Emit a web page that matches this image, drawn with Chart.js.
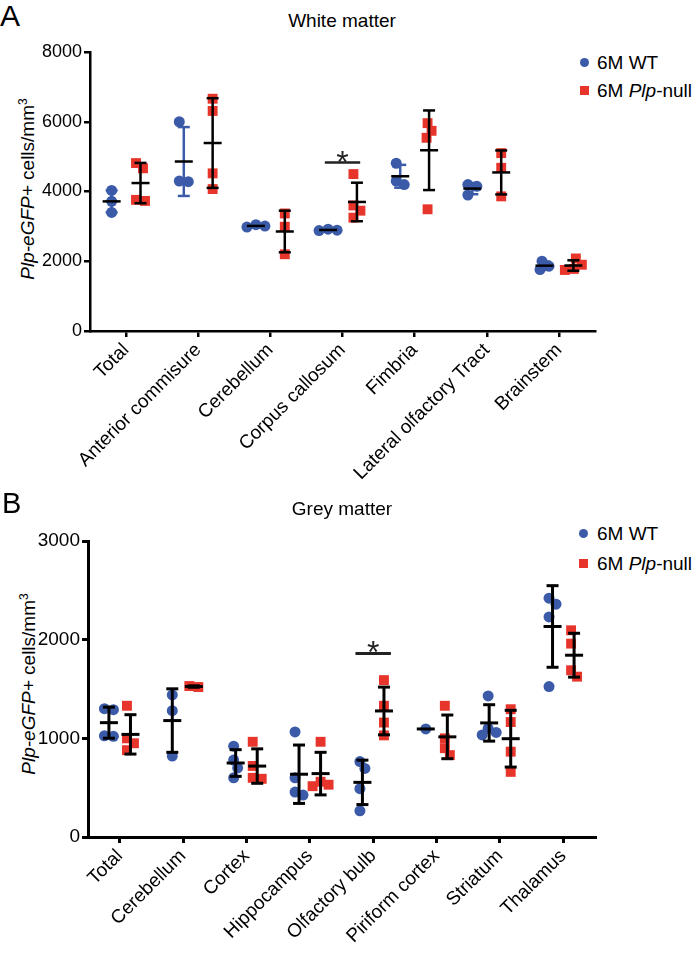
<!DOCTYPE html>
<html>
<head>
<meta charset="utf-8">
<script src="https://cdn.jsdelivr.net/npm/chart.js@4"></script>
<style>
  body { margin: 0; background: #fff; font-family: "Liberation Sans", Arial, sans-serif; color: #000; }
  #page { position: relative; width: 699px; height: 958px; overflow: hidden; }
  .t { position: absolute; line-height: 1; white-space: nowrap; }
  .ytitle { position: absolute; line-height: 1; white-space: nowrap; font-size: 19px;
            transform: translate(-50%, -50%) rotate(-90deg); }
  .dot { position: absolute; width: 9px; height: 9px; border-radius: 50%; background: #3B5BA9; }
  .sq { position: absolute; width: 9px; height: 9px; background: #E8352B; }
  canvas { position: absolute; left: 0; }
</style>
</head>
<body>
<div id="page">
  <div class="t" style="left:0;top:1px;font-size:30px">A</div>
  <div class="t" style="left:342px;top:11px;font-size:19px;transform:translateX(-50%)">White matter</div>
  <div class="dot" style="left:580px;top:58px"></div>
  <div class="t" style="left:597px;top:53px;font-size:19px">6M WT</div>
  <div class="sq" style="left:580px;top:86px"></div>
  <div class="t" style="left:597px;top:81px;font-size:19px">6M <i>Plp</i>-null</div>
  <div class="ytitle" style="left:27px;top:189px"><i>Plp-eGFP+</i> cells/mm<sup style="font-size:12px">3</sup></div>
  <canvas id="chartA" width="699" height="470" style="top:30px"></canvas>

  <div class="t" style="left:2px;top:489px;font-size:29px">B</div>
  <div class="t" style="left:342px;top:499px;font-size:19px;transform:translateX(-50%)">Grey matter</div>
  <div class="dot" style="left:579px;top:529px"></div>
  <div class="t" style="left:597px;top:524px;font-size:19px">6M WT</div>
  <div class="sq" style="left:579px;top:559px"></div>
  <div class="t" style="left:597px;top:554px;font-size:19px">6M <i>Plp</i>-null</div>
  <div class="ytitle" style="left:28px;top:684px"><i>Plp-eGFP+</i> cells/mm<sup style="font-size:12px">3</sup></div>
  <canvas id="chartB" width="699" height="438" style="top:520px"></canvas>
</div>
<script>
// White matter
const regionsA = ['Total', 'Anterior commisure', 'Cerebellum', 'Corpus callosum', 'Fimbria', 'Lateral olfactory Tract', 'Brainstem']
const wtA = [[4030, 3720, 3400], [6000, 4300, 4280], [3050, 3010, 2980], [2920, 2890, 2880],
             [4810, 4300, 4200], [4200, 4150, 3900], [2000, 1860, 1760]]
const nullA = [[4815, 4665, 3760, 3730], [6660, 6310, 4520, 4070], [3370, 2990, 2200], [4500, 3600, 3450, 3250],
               [5960, 5740, 5540, 3490], [5100, 4680, 3860], [2080, 1900, 1780, 1750]]
const ticksA = [0, 2000, 4000, 6000, 8000]
const sigRegionA = [3]
const sigValueA = [4830]

// Grey matter
const regionsB = ['Total', 'Cerebellum', 'Cortex', 'Hippocampus', 'Olfactory bulb', 'Piriform cortex', 'Striatum', 'Thalamus']
const wtB = [[1300, 1290, 1025, 1020], [1440, 1280, 820], [920, 780, 700, 600], [1065, 600, 455, 425],
             [765, 695, 490, 265], [1095], [1430, 1100, 1060, 1035], [2420, 2360, 2230, 1525]]
const nullB = [[1330, 1000, 950, 880], [1530, 1520], [965, 720, 600, 590], [965, 560, 530, 515],
               [1590, 1330, 1160, 1030], [1330, 1000, 900, 830], [1295, 1165, 865, 660], [2095, 1960, 1690, 1625]]
const ticksB = [0, 1000, 2000, 3000]
const sigRegionB = [4]
const sigValueB = [1860]

const BLUE = '#3B5BA9'
const RED = '#E8352B'
const FONT = '"Liberation Sans", Arial, sans-serif'

function meanSd(vals) {
    const n = vals.length
    const m = vals.reduce((a, b) => a + b, 0) / n
    const sd = n > 1 ? Math.sqrt(vals.reduce((a, v) => a + (v - m) ** 2, 0) / (n - 1)) : 0
    return [m, sd]
}

function line(ctx, x1, y1, x2, y2) {
    ctx.beginPath()
    ctx.moveTo(x1, y1)
    ctx.lineTo(x2, y2)
    ctx.stroke()
}

// mean +/- SD bars and significance marks, drawn over the points
const dotPlot = {
    id: 'dotplot',
    afterDatasetsDraw(chart, args, o) {
        const { ctx, scales: { x, y } } = chart
        ctx.save()
        ctx.lineWidth = o.lineWidth
        const groups = [[o.wt, -o.off, o.wtBar], [o.ko, o.off, '#000']]
        groups.forEach(([sets, dx, col]) => {
            sets.forEach((vals, i) => {
                const [m, sd] = meanSd(vals)
                const px = x.getPixelForValue(i + dx)
                const yt = y.getPixelForValue(m + sd)
                const yb = y.getPixelForValue(m - sd)
                const ym = y.getPixelForValue(m)
                if (sd > 0) {
                    ctx.strokeStyle = col
                    line(ctx, px, yt, px, yb)
                    line(ctx, px - 6, yt, px + 6, yt)
                    line(ctx, px - 6, yb, px + 6, yb)
                }
                ctx.strokeStyle = '#000'
                line(ctx, px - 9, ym, px + 9, ym)
            })
        })
        ctx.strokeStyle = '#222'
        ctx.fillStyle = '#222'
        ctx.font = '32px ' + FONT
        ctx.textAlign = 'center'
        ctx.textBaseline = 'alphabetic'
        o.sigRegion.forEach((c, k) => {
            const yv = y.getPixelForValue(o.sigValue[k])
            const x1 = x.getPixelForValue(c - o.sigHalf)
            const x2 = x.getPixelForValue(c + o.sigHalf)
            line(ctx, x1, yv, x2, yv)
            ctx.fillText('*', (x1 + x2) / 2, yv + 10)
        })
        ctx.restore()
    }
}

// spread overlapping points sideways (pixel offsets), centred on the group
function swarm(vals, yPix, d) {
    const order = vals.map((v, i) => i).sort((a, b) => vals[b] - vals[a])
    const placed = []
    const out = []
    order.forEach(i => {
        const py = yPix(vals[i])
        let best = 0
        search:
        for (let k = 0; k < 30; k++) {
            for (const s of (k === 0 ? [0] : [1, -1])) {
                const px = s * k
                if (placed.every(p => (p.x - px) ** 2 + (p.y - py) ** 2 >= d * d)) { best = px; break search }
            }
        }
        placed.push({ x: best, y: py })
        out[i] = best
    })
    const shift = (Math.max(...out) + Math.min(...out)) / 2
    return out.map(v => v - shift)
}

function buildPoints(sets, dx) {
    const pts = []
    sets.forEach((vals, i) => vals.forEach(v => pts.push({ x: i + dx, y: v })))
    return pts
}

function makeChart(id, regions, wt, ko, ticks, cfg) {
    const axisLine = { color: '#000', width: cfg.lineWidth }
    const grid = { drawOnChartArea: false, color: '#000', lineWidth: cfg.lineWidth, tickLength: 6 }
    const chart = new Chart(document.getElementById(id), {
        type: 'scatter',
        data: {
            datasets: [
                { label: '6M WT', data: buildPoints(wt, -cfg.off), pointStyle: 'circle', pointRadius: 5.5,
                  backgroundColor: BLUE, borderWidth: 0, pointHoverRadius: 5.5 },
                { label: '6M Plp-null', data: buildPoints(ko, cfg.off), pointStyle: 'rect', pointRadius: 7,
                  backgroundColor: RED, borderWidth: 0, pointHoverRadius: 7 }
            ]
        },
        options: {
            responsive: false,
            animation: false,
            layout: { padding: { top: cfg.padTop, right: 104, left: 0, bottom: 0 } },
            plugins: {
                legend: { display: false },
                tooltip: { enabled: false },
                dotplot: {
                    wt: wt, ko: ko, off: cfg.off, wtBar: cfg.wtBar, lineWidth: cfg.lineWidth,
                    sigRegion: cfg.sigRegion, sigValue: cfg.sigValue, sigHalf: cfg.sigHalf
                }
            },
            scales: {
                x: {
                    type: 'linear',
                    min: -0.5,
                    max: regions.length - 0.5,
                    afterBuildTicks: s => { s.ticks = regions.map((r, i) => ({ value: i })) },
                    afterFit: s => { s.height = cfg.xHeight },
                    ticks: {
                        autoSkip: false, minRotation: 45, maxRotation: 45, padding: 2,
                        color: '#000', font: { size: 19, family: FONT },
                        callback: v => regions[v]
                    },
                    grid: grid,
                    border: axisLine
                },
                y: {
                    min: ticks[0],
                    max: ticks[ticks.length - 1],
                    afterBuildTicks: s => { s.ticks = ticks.map(v => ({ value: v })) },
                    afterFit: s => { s.width = cfg.yWidth },
                    ticks: {
                        padding: 2, color: '#000',
                        font: { size: cfg.tickSize, family: FONT },
                        callback: v => String(v)
                    },
                    grid: grid,
                    border: axisLine
                }
            }
        },
        plugins: [dotPlot]
    })

    // jitter overlapping points now that the scales exist
    const unit = chart.scales.x.getPixelForValue(1) - chart.scales.x.getPixelForValue(0)
    const yPix = v => chart.scales.y.getPixelForValue(v);
    [[wt, -cfg.off, 8.5], [ko, cfg.off, 8.5]].forEach(([sets, dx, d], di) => {
        const pts = []
        sets.forEach((vals, i) => {
            const offs = swarm(vals, yPix, d)
            vals.forEach((v, j) => pts.push({ x: i + dx + offs[j] / unit, y: v }))
        })
        chart.data.datasets[di].data = pts
    })
    chart.update('none')
    return chart
}

makeChart('chartA', regionsA, wtA, nullA, ticksA, {
    off: 0.2, wtBar: BLUE, lineWidth: 2.5, padTop: 22, xHeight: 169, yWidth: 90, tickSize: 18,
    sigRegion: sigRegionA, sigValue: sigValueA, sigHalf: 0.245
})
makeChart('chartB', regionsB, wtB, nullB, ticksB, {
    off: 0.17, wtBar: '#000', lineWidth: 3, padTop: 21, xHeight: 121, yWidth: 88, tickSize: 19,
    sigRegion: sigRegionB, sigValue: sigValueB, sigHalf: 0.28
})
</script>
</body>
</html>
